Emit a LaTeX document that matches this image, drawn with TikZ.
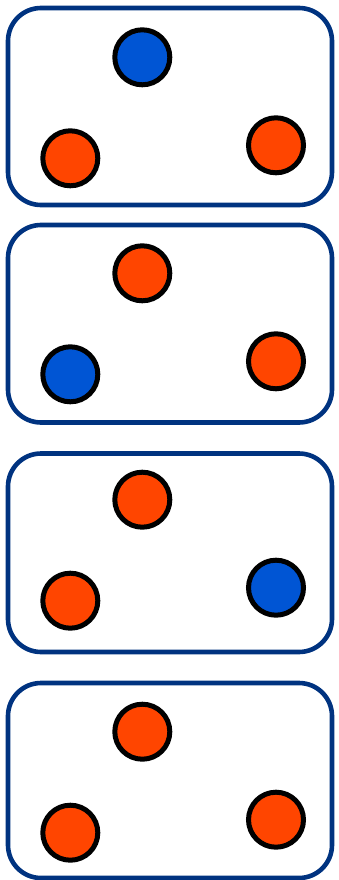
\documentclass[tikz,border=0pt]{standalone}

\definecolor{frameblue}{HTML}{003380}
\definecolor{dotblue}{HTML}{0055D4}
\definecolor{dotorange}{HTML}{FF4500}

\begin{document}
\begin{tikzpicture}[x=1pt, y=-1pt,
  panel/.style={draw=frameblue, line width=4.6pt, rounded corners=33pt},
  dot/.style={circle, draw=black, line width=5pt, minimum size=55pt, inner sep=0pt}]

\useasboundingbox (0,0) rectangle (338,880);

% Panels: top edge / bottom edge / height of top dot / colours of top, left, right dot
\foreach \i/\ptop/\pbot/\dy/\ct/\cl/\cr in {
    1/8/205/57.3/dotblue/dotorange/dotorange,
    2/225/422.5/273.3/dotorange/dotblue/dotorange,
    3/453.5/652/499.7/dotorange/dotorange/dotblue,
    4/683/878/731.7/dotorange/dotorange/dotorange}
{
  \draw[panel] (8,\ptop) rectangle (332,\pbot);
  \node[dot, fill=\ct] (top\i) at (142.3,\dy) {};
  \node[dot, fill=\cl] (left\i) at (70.3,\dy+101) {};
  \node[dot, fill=\cr] (right\i) at (276,\dy+88) {};
}

\end{tikzpicture}
\end{document}
